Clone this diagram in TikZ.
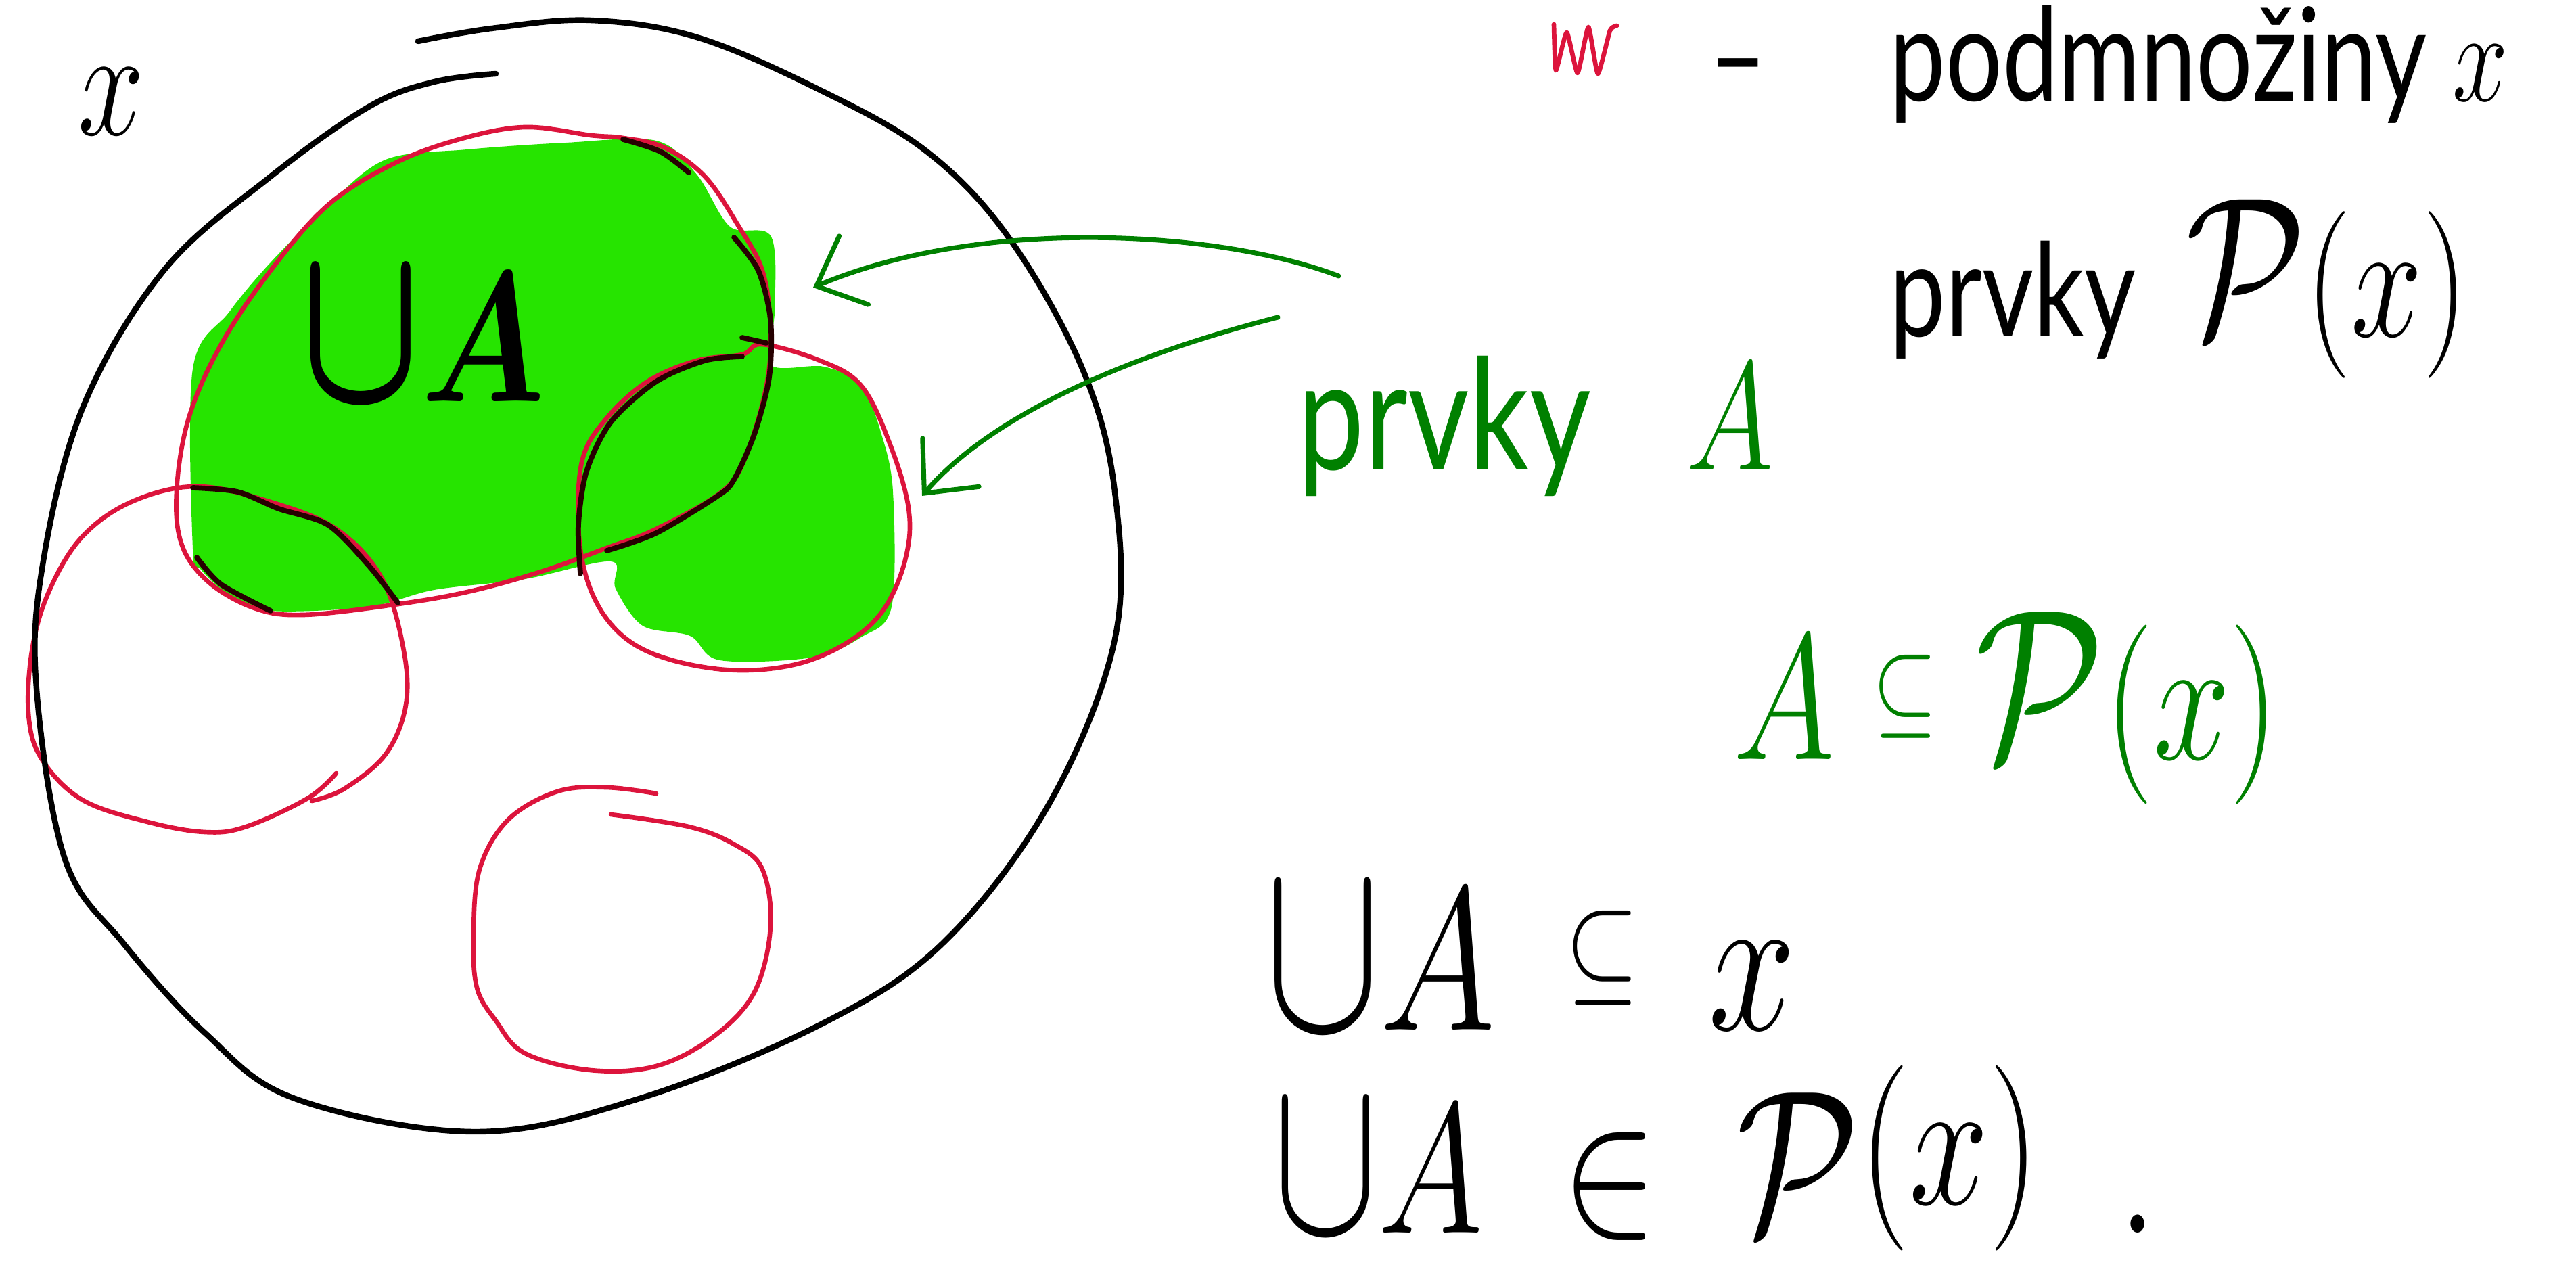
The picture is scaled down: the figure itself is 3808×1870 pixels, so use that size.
\documentclass[tikz,border=0pt]{standalone}
\usepackage{fix-cm}
\usepackage{fontspec}
\setmainfont{Lato}
\usetikzlibrary{arrows.meta}

\definecolor{inkred}{RGB}{220,20,60}
\definecolor{inkgreen}{RGB}{0,128,0}
\definecolor{marker}{RGB}{38,228,0}

\newcommand{\unionU}{\mathord{\scalebox{1.1}[1.25]{$\cup$}}}
\newcommand{\powset}{\mathord{\scalebox{1.2}{$\mathcal{P}$}}}
\newcommand{\shrinkrel}[1]{\mathrel{\raisebox{0.2em}{\scalebox{0.6}{$#1$}}}}

\begin{document}
\begin{tikzpicture}[
    x=0.1mm, y=-0.1mm,
    setline/.style={draw=black, line width=2.4pt, line cap=round, line join=round},
    subsetline/.style={draw=inkred, line width=1.9pt, line cap=round, line join=round},
    retrace/.style={draw=black!85!red, line width=2.2pt, line cap=round, line join=round},
    pointer/.style={draw=inkgreen, line width=2pt, line cap=round, -{Straight Barb[length=6mm, width=11mm, line cap=round]}},
    setname/.style={inner sep=0pt, transform shape, yscale=1.3, font=\fontsize{60pt}{64pt}\selectfont},
    note/.style={anchor=base west, inner sep=0pt, transform shape, yscale=1.3, font=\fontsize{42pt}{46pt}\selectfont},
    formula/.style={anchor=base west, inner sep=0pt, transform shape, yscale=1.3, font=\fontsize{64pt}{68pt}\selectfont}
]

\useasboundingbox (0,0) rectangle (3808,1870);

% Marker fill for the union
\fill[marker] plot[smooth cycle, tension=0.55] coordinates {(570,236) (691,221) (836,211) (970,208) (1030,258) (1079,335) (1140,350) (1145,461) (1139,539) (1218,542) (1273,570) (1303,642) (1320,727) (1318,897) (1273,942) (1200,972) (1064,976) (1020,940) (950,925) (910,870) (903,830) (776,856) (642,872) (545,897) (400,903) (340,880) (297,842) (285,812) (285,545) (339,461) (400,388) (485,303)};

% Subsets of x (red)
\draw[subsetline] plot[smooth cycle, tension=0.6] coordinates {(873,200) (776,188) (679,206) (582,242) (485,303) (400,400) (327,509) (279,618) (261,727) (269,806) (309,861) (376,899) (448,909) (582,894) (691,875) (800,845) (897,810) (970,782) (1067,727) (1103,673) (1133,570) (1139,485) (1127,400) (1091,333) (1042,261) (982,218) (921,204)};
\draw[subsetline] plot[smooth cycle, tension=0.6] coordinates {(1127,509) (1212,533) (1273,570) (1315,655) (1343,751) (1339,824) (1309,897) (1260,945) (1188,979) (1103,991) (1018,982) (945,957) (897,915) (867,854) (855,776) (861,679) (897,618) (957,564) (1030,533) (1097,524)};
\draw[subsetline] plot[smooth, tension=0.6] coordinates {(497,1143) (455,1180) (364,1222) (303,1230) (218,1215) (121,1182) (61,1121) (42,1054) (48,957) (73,873) (121,794) (194,742) (291,719) (400,742) (497,782) (564,854) (596,957) (600,1042) (570,1115) (509,1166) (461,1184)};
\draw[subsetline] plot[smooth, tension=0.6] coordinates {(970,1173) (897,1164) (824,1170) (751,1212) (709,1285) (700,1382) (705,1460) (733,1509) (776,1557) (873,1582) (970,1576) (1054,1533) (1115,1467) (1139,1370) (1127,1285) (1085,1248) (1018,1222) (903,1204)};

% Black retracing of the union's edge
\draw[retrace] plot[smooth] coordinates {(1085,351) (1121,400) (1139,473) (1137,558) (1115,642) (1085,709) (1061,733) (970,788) (897,814)};
\draw[retrace] plot[smooth] coordinates {(921,206) (976,224) (1018,255)};
\draw[retrace] plot[smooth] coordinates {(1097,527) (1042,533) (970,564) (903,624) (867,697) (855,776) (858,848)};
\draw[retrace] (1097,499) -- (1133,507);
\draw[retrace] plot[smooth] coordinates {(285,721) (351,727) (412,752) (485,776) (545,836) (588,891)};
\draw[retrace] plot[smooth] coordinates {(291,824) (327,864) (400,903)};

% The set x
\draw[setline] plot[smooth, tension=0.6] coordinates {(733,109) (642,121) (545,158) (400,261) (242,400) (121,606) (61,848) (55,1030) (97,1273) (182,1394) (303,1527) (436,1624) (703,1673) (945,1624) (1212,1515) (1394,1394) (1551,1188) (1648,945) (1648,727) (1600,545) (1491,351) (1370,224) (1212,133) (1030,55) (873,30) (727,42) (618,61)};

\node[setname, font=\fontsize{50pt}{54pt}\selectfont] (xlab) at (164,150) {$x$};
\node[setname, font=\fontsize{60pt}{64pt}\selectfont\boldmath] (unionlab) at (625,498) {$\unionU A$};

% Legend
\draw[subsetline] plot[smooth, tension=0.3] coordinates {(2297,36) (2300,104) (2316,48) (2332,108) (2348,40) (2362,109) (2380,45) (2390,38)};
\node[note] (dash) at (2526,150) {–};
\node[note] (subsets) at (2793,150) {podmnožiny $x$};
\node[note] (elemsP) at (2793,498) {prvky\hspace{0.5em}{\fontsize{54pt}{58pt}\selectfont$\powset(x)$}};

% Elements of A
\node[note, text=inkgreen, font=\fontsize{50pt}{54pt}\selectfont] (elemsA) at (1918,695) {prvky\hspace{0.8em}$A$};
\coordinate (bigtail) at (1979,408);
\coordinate (bigtip) at (1202,425);
\coordinate (smalltail) at (1889,469);
\coordinate (smalltip) at (1363,733);
\draw[pointer] (bigtail) .. controls (1800,340) and (1450,320) .. (bigtip);
\draw[pointer] (smalltail) .. controls (1650,530) and (1460,620) .. (smalltip);

% Formulas
\node[formula, text=inkgreen, font=\fontsize{58pt}{62pt}\selectfont] (AinP) at (2562,1122) {$A \shrinkrel{\subseteq} \powset(x)$};
\node[formula, font=\fontsize{66pt}{70pt}\selectfont] (UinX) at (1870,1522) {$\unionU A \,\shrinkrel{\subseteq}\, x$};
\node[formula, font=\fontsize{60pt}{64pt}\selectfont] (UinP) at (1882,1822) {$\unionU A \;\in\; \scalebox{0.92}{$\powset$}\raisebox{0.15em}{$(x)$}\;\;.$};

\end{tikzpicture}
\end{document}
